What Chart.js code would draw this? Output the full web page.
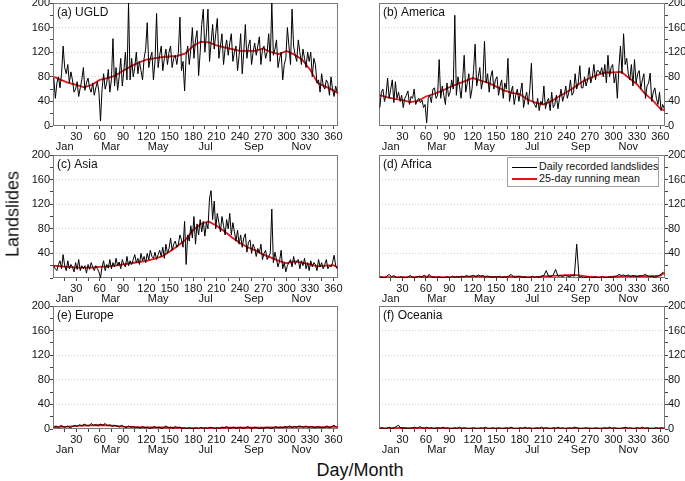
<!DOCTYPE html>
<html>
<head>
<meta charset="utf-8">
<script src="https://cdn.jsdelivr.net/npm/chart.js@4.4.0/dist/chart.umd.min.js"></script>
<style>
  body { margin: 0; background: #fff; width: 685px; height: 481px; overflow: hidden; position: relative;
         font-family: "Liberation Sans", Arial, sans-serif; color: #111; }
  .panel { position: absolute; height: 157px; }
  .left { left: 0; width: 345px; }
  .right { left: 370px; width: 315px; }
  .row1 { top: -5px; }
  .row2 { top: 147px; }
  .row3 { top: 298px; }
  #ytitle { position: absolute; left: 13px; top: 214px; transform: translate(-50%, -50%) rotate(-90deg);
            font-size: 18px; white-space: nowrap; }
  #xtitle { position: absolute; left: 360px; top: 470px; transform: translate(-50%, -50%);
            font-size: 18px; white-space: nowrap; }
  #legend { position: absolute; left: 507px; top: 157px; width: 150px; height: 28px; border: 1px solid #a0a0a0;
            background: #fff; font-size: 10.7px; }
  #legend div { height: 12px; line-height: 12px; margin-top: 2px; white-space: nowrap; }
  #legend div + div { margin-top: 0; }
  #legend span.ln { display: inline-block; width: 25px; vertical-align: middle; margin: 0 2px 0 4px; }
</style>
</head>
<body>
<div class="panel left row1"><canvas id="pa"></canvas></div>
<div class="panel right row1"><canvas id="pb"></canvas></div>
<div class="panel left row2"><canvas id="pc"></canvas></div>
<div class="panel right row2"><canvas id="pd"></canvas></div>
<div class="panel left row3"><canvas id="pe"></canvas></div>
<div class="panel right row3"><canvas id="pf"></canvas></div>
<div id="legend">
  <div><span class="ln" style="border-top:1.5px solid #000"></span>Daily recorded landslides</div>
  <div><span class="ln" style="border-top:2px solid #e8141c"></span>25-day running mean</div>
</div>
<div id="ytitle">Landslides</div>
<div id="xtitle">Day/Month</div>
<script>
// day of year of the samples: every 2nd day for a-c, every 3rd day for d-f
const days2 = Array.from({ length: 183 }, (_, i) => 1 + 2 * i);
const days3 = Array.from({ length: 122 }, (_, i) => 1 + 3 * i);
const meanDays = [1, 10, 20, 30, 40, 50, 60, 70, 80, 90, 100, 110, 120, 130, 140, 150, 160, 170, 180, 190,
  200, 210, 220, 230, 240, 250, 260, 270, 280, 290, 300, 310, 320, 330, 340, 350, 360, 366];

const dayTicks = [15, 30, 45, 60, 75, 90, 105, 120, 135, 150, 165, 180, 195, 210, 225, 240, 255, 270,
  285, 300, 315, 330, 345, 360];
const monthDays = [15, 74, 135, 196, 258, 319];
const monthNames = ["Jan", "Mar", "May", "Jul", "Sep", "Nov"];

// (a) UGLD
const ugldDaily = [78, 45, 70, 80, 62, 85, 130, 95, 85, 100,
  70, 88, 75, 55, 60, 72, 48, 62, 75, 95,
  58, 70, 78, 62, 55, 70, 50, 62, 72, 55,
  8, 60, 85, 60, 70, 92, 55, 75, 142, 65,
  95, 58, 80, 110, 65, 90, 120, 75, 200, 75,
  110, 80, 95, 120, 85, 105, 90, 75, 110, 125,
  168, 95, 110, 120, 75, 105, 183, 95, 115, 130,
  90, 110, 125, 100, 120, 130, 95, 110, 115, 100,
  120, 177, 90, 105, 57, 115, 130, 100, 125, 160,
  110, 140, 155, 82, 120, 165, 190, 120, 150, 190,
  105, 135, 165, 125, 150, 175, 110, 130, 150, 100,
  125, 140, 115, 135, 150, 105, 120, 130, 90, 115,
  150, 85, 120, 165, 110, 130, 140, 100, 120, 135,
  115, 130, 145, 100, 125, 130, 110, 120, 150, 105,
  200, 115, 125, 140, 95, 110, 120, 75, 100, 110,
  160, 130, 100, 190, 130, 115, 105, 140, 120, 100,
  125, 110, 95, 120, 105, 120, 80, 110, 100, 70,
  75, 55, 85, 65, 60, 75, 70, 50, 80, 60,
  48, 65, 55];
const ugldMean = [80, 75, 70, 67, 63, 67, 75, 78, 82, 90, 97, 103, 108, 110, 112, 113, 114, 118, 130, 137,
  136, 131, 128, 125, 122, 122, 122, 126, 120, 117, 122, 116, 108, 92, 70, 64, 58, 53];

// (b) America
const americaDaily = [30, 55, 60, 40, 50, 78, 45, 60, 75, 38,
  72, 45, 55, 40, 50, 30, 45, 50, 57, 35,
  48, 45, 60, 35, 42, 45, 38, 42, 30, 35,
  5, 45, 50, 38, 60, 62, 45, 50, 108, 45,
  65, 50, 35, 70, 48, 55, 75, 60, 180, 50,
  80, 65, 45, 75, 115, 55, 70, 85, 45, 60,
  90, 133, 65, 80, 95, 60, 75, 138, 70, 85,
  55, 80, 90, 60, 75, 80, 50, 65, 75, 45,
  70, 60, 110, 40, 55, 65, 35, 50, 60, 40,
  55, 70, 30, 45, 55, 35, 60, 102, 40, 35,
  30, 45, 25, 40, 35, 65, 28, 40, 45, 25,
  55, 30, 35, 50, 28, 45, 60, 40, 50, 65,
  45, 55, 75, 50, 55, 85, 60, 70, 98, 62,
  62, 80, 65, 75, 95, 70, 80, 100, 75, 90,
  90, 85, 95, 80, 100, 70, 115, 80, 95, 100,
  70, 85, 45, 95, 130, 85, 150, 100, 110, 85,
  75, 100, 65, 108, 70, 85, 90, 60, 75, 85,
  45, 65, 70, 86, 40, 55, 62, 45, 35, 55,
  25, 35, 28];
const americaMean = [50, 47, 44, 42, 39, 41, 48, 52, 57, 63, 68, 73, 78, 74, 70, 64, 58, 54, 52, 43,
  38, 35, 40, 48, 55, 63, 72, 78, 83, 87, 87, 88, 78, 68, 53, 42, 28, 25];

// (c) Asia
const asiaDaily = [20, 15, 12, 22, 28, 15, 38, 20, 12, 28,
  15, 22, 18, 10, 25, 14, 30, 12, 20, 15,
  20, 8, 22, 14, 25, 18, 12, 20, 15, 10,
  0, 18, 28, 12, 22, 16, 30, 15, 25, 18,
  32, 20, 26, 15, 30, 22, 18, 35, 20, 28,
  22, 30, 38, 25, 32, 22, 40, 28, 35, 25,
  40, 30, 45, 35, 32, 42, 30, 38, 45, 35,
  50, 32, 55, 40, 48, 65, 45, 55, 60, 50,
  55, 70, 62, 50, 92, 22, 70, 60, 85, 65,
  100, 55, 88, 70, 95, 75, 92, 68, 90, 80,
  130, 142, 95, 125, 80, 105, 90, 75, 100, 85,
  70, 95, 80, 105, 70, 90, 75, 60, 78, 55,
  70, 50, 65, 72, 42, 58, 62, 40, 55, 48,
  35, 48, 40, 55, 30, 40, 45, 30, 35, 40,
  112, 25, 42, 30, 18, 28, 45, 15, 25, 10,
  20, 25, 30, 18, 35, 22, 28, 30, 15, 28,
  20, 32, 15, 25, 12, 28, 18, 25, 22, 12,
  30, 18, 25, 15, 22, 30, 15, 20, 18, 25,
  37, 20, 15];
const asiaMean = [20, 19, 18, 17, 17, 17, 18, 19, 20, 22, 24, 26, 28, 31, 35, 43, 52, 62, 78, 88,
  92, 85, 76, 66, 57, 50, 45, 38, 33, 28, 24, 27, 25, 22, 19, 20, 21, 17];

// (d) Africa
const africaDaily = [2, 1, 0, 3, 6, 2, 4, 1, 0, 2,
  1, 0, 2, 4, 1, 0, 2, 3, 1, 5,
  0, 6, 2, 1, 0, 2, 1, 0, 1, 2,
  0, 3, 1, 2, 1, 3, 2, 4, 2, 3,
  4, 2, 5, 3, 4, 1, 3, 2, 1, 2,
  1, 3, 0, 2, 1, 3, 6, 2, 1, 3,
  2, 1, 2, 0, 1, 3, 1, 2, 1, 3,
  4, 12, 3, 2, 5, 14, 3, 4, 2, 5,
  3, 2, 4, 3, 55, 1, 2, 0, 1, 2,
  0, 1, 2, 0, 1, 2, 1, 0, 2, 1,
  2, 3, 6, 4, 5, 3, 5, 2, 4, 3,
  2, 4, 3, 6, 4, 2, 3, 1, 2, 4,
  6, 10];
const africaMean = [1.5, 1.5, 1.5, 1.5, 1.5, 1.8, 2, 1.8, 1.5, 1.5, 1.8, 2, 2.5, 2.5, 2, 1.8, 1.8, 2, 2, 1.5,
  1.5, 2.5, 3.5, 4, 4.5, 5, 3.5, 2, 1.5, 1.5, 2, 2.5, 3, 3, 3, 3, 4, 9];

// (e) Europe
const europeDaily = [3, 5, 2, 6, 4, 3, 5, 2, 4, 6,
  4, 7, 5, 8, 6, 5, 9, 6, 7, 5,
  8, 6, 9, 5, 7, 4, 6, 5, 3, 6,
  4, 2, 5, 3, 4, 2, 3, 1, 4, 2,
  3, 1, 2, 4, 2, 3, 1, 2, 5, 2,
  3, 1, 4, 2, 3, 1, 2, 0, 2, 1,
  1, 2, 0, 3, 1, 2, 1, 3, 2, 1,
  2, 1, 3, 2, 4, 1, 2, 3, 1, 2,
  3, 1, 2, 4, 2, 1, 3, 2, 1, 2,
  1, 3, 2, 1, 2, 4, 2, 3, 2, 4,
  3, 5, 2, 4, 3, 5, 4, 3, 5, 2,
  4, 3, 2, 4, 3, 2, 3, 5, 2, 4,
  6, 3];
const europeMean = [3, 3.5, 4, 5, 5.5, 6, 6.5, 6, 5, 4, 3.5, 3, 2.5, 2.5, 2.5, 2, 2, 1.5, 1.5, 1.5,
  1.5, 1.5, 2, 2, 2, 2, 2, 2, 2.5, 2.5, 3, 3.5, 3.5, 3.5, 3, 3, 3.5, 3.5];

// (f) Oceania
const oceaniaDaily = [1, 2, 0, 1, 3, 1, 2, 4, 6, 1,
  2, 1, 0, 1, 2, 3, 1, 4, 2, 1,
  3, 1, 2, 0, 1, 2, 1, 3, 1, 2,
  0, 1, 2, 1, 3, 1, 2, 1, 0, 1,
  2, 1, 0, 2, 1, 3, 1, 0, 2, 1,
  1, 2, 0, 1, 2, 1, 3, 1, 0, 1,
  2, 1, 3, 1, 2, 0, 1, 2, 1, 3,
  1, 2, 1, 0, 2, 1, 3, 1, 2, 0,
  1, 2, 1, 3, 2, 1, 0, 1, 2, 1,
  1, 0, 2, 1, 0, 1, 2, 1, 3, 1,
  2, 1, 0, 1, 2, 3, 1, 2, 0, 1,
  2, 1, 3, 1, 2, 1, 0, 1, 2, 1,
  2, 1];
const oceaniaMean = [1.2, 1.3, 1.5, 1.6, 1.4, 1.3, 1.2, 1.3, 1.2, 1.1, 1.0, 1.0, 1.1, 1.0, 1.0, 1.1, 1.0, 1.0, 1.1, 1.0,
  1.1, 1.0, 1.0, 1.1, 1.0, 1.0, 1.1, 1.0, 1.0, 1.0, 1.1, 1.0, 1.0, 1.1, 1.0, 1.0, 1.1, 1.2];

const tickFont = { family: "'Liberation Sans', Arial, sans-serif", size: 11 };

const makePanel = (id, label, days, daily, mean, side, showZero) => {
  // frame under the lines, panel label on top
  const frame = {
    id: "frame",
    beforeDatasetsDraw(chart) {
      const a = chart.chartArea;
      const ctx = chart.ctx;
      ctx.save();
      ctx.strokeStyle = "#7a7a7a";
      ctx.lineWidth = 1;
      ctx.strokeRect(a.left + 0.5, a.top + 0.5, a.right - a.left - 1, a.bottom - a.top - 1);
      ctx.restore();
    },
    afterDraw(chart) {
      const a = chart.chartArea;
      const ctx = chart.ctx;
      ctx.save();
      ctx.fillStyle = "#111";
      ctx.font = "12px 'Liberation Sans', Arial, sans-serif";
      ctx.textBaseline = "top";
      ctx.fillText(label, a.left + 4, a.top + 4);
      ctx.restore();
    },
  };

  new Chart(document.getElementById(id), {
    type: "line",
    data: {
      datasets: [
        {
          data: daily.map((y, i) => ({ x: days[i], y })),
          borderColor: "#000",
          borderWidth: 1,
          pointRadius: 0,
          tension: 0,
          xAxisID: "x",
          yAxisID: "y",
        },
        {
          data: mean.map((y, i) => ({ x: meanDays[i], y })),
          borderColor: "#e8141c",
          borderWidth: 1.8,
          pointRadius: 0,
          tension: 0,
          xAxisID: "x",
          yAxisID: "y",
        },
      ],
    },
    options: {
      responsive: true,
      maintainAspectRatio: false,
      animation: false,
      layout: {
        padding: side === "left"
          ? { top: 8, left: 0, right: 7, bottom: 0 }
          : { top: 8, left: 9, right: 0, bottom: 0 },
      },
      plugins: { legend: { display: false }, tooltip: { enabled: false } },
      scales: {
        x: {
          type: "linear",
          position: "bottom",
          min: 0,
          max: 366,
          weight: 1,
          afterBuildTicks: (ax) => { ax.ticks = dayTicks.map((v) => ({ value: v })); },
          afterFit: (ax) => { ax.height = 14; },
          grid: { drawOnChartArea: false, tickLength: 3, color: "#444" },
          border: { display: false },
          ticks: {
            callback: (v) => (v % 30 === 0 ? v : ""),
            font: tickFont, color: "#111", padding: 1, maxRotation: 0, autoSkip: false,
          },
        },
        m: {
          type: "linear",
          position: "bottom",
          min: 0,
          max: 366,
          weight: 2,
          afterBuildTicks: (ax) => { ax.ticks = monthDays.map((v) => ({ value: v })); },
          afterFit: (ax) => { ax.height = 12; },
          grid: { display: false, drawTicks: false },
          border: { display: false },
          ticks: {
            callback: (v, i) => monthNames[i],
            font: tickFont, color: "#111", padding: 0, maxRotation: 0, autoSkip: false,
          },
        },
        y: {
          position: side,
          min: 0,
          max: 200,
          afterFit: (ax) => { ax.width = side === "left" ? 53 : 20; },
          ticks: {
            stepSize: 20,
            autoSkip: false,
            callback: (v) => (v % 40 !== 0 || (v === 0 && !showZero) ? "" : v),
            font: tickFont,
            color: "#111",
            padding: 0,
          },
          grid: {
            color: (c) => (c.tick && c.tick.value % 40 === 0 && c.tick.value > 0 && c.tick.value < 200
              ? "#cfcfcf" : "rgba(0,0,0,0)"),
            tickColor: "#444",
            tickLength: 3,
          },
          border: { display: false, dash: [1, 2] },
        },
      },
    },
    plugins: [frame],
  });
};

makePanel("pa", "(a) UGLD", days2, ugldDaily, ugldMean, "left", true);
makePanel("pb", "(b) America", days2, americaDaily, americaMean, "right", true);
makePanel("pc", "(c) Asia", days2, asiaDaily, asiaMean, "left", false);
makePanel("pd", "(d) Africa", days3, africaDaily, africaMean, "right", false);
makePanel("pe", "(e) Europe", days3, europeDaily, europeMean, "left", true);
makePanel("pf", "(f) Oceania", days3, oceaniaDaily, oceaniaMean, "right", true);
</script>
</body>
</html>
